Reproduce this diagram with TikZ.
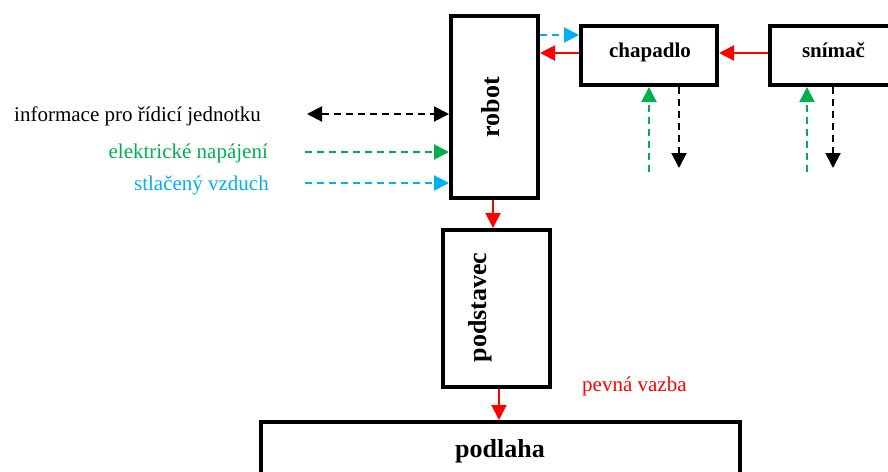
\documentclass[tikz,border=0pt]{standalone}
\usepackage{fontspec}
\setmainfont{Liberation Serif}
\usetikzlibrary{arrows.meta}
\definecolor{ored}{HTML}{FF0000}
\definecolor{ogreen}{HTML}{00B050}
\definecolor{oblue}{HTML}{00B0F0}
\begin{document}
\begin{tikzpicture}[x=1pt,y=-1pt,
  blk/.style={draw=black,line width=4pt,minimum width=#1,inner sep=0pt},
  bigtxt/.style={font=\fontsize{26}{30}\selectfont\bfseries,inner sep=0pt},
  midtxt/.style={font=\fontsize{21}{25}\selectfont\bfseries,inner sep=0pt},
  lbl/.style={font=\fontsize{21}{25}\selectfont,inner sep=0pt},
  tip/.style={-{Triangle[length=15pt,width=15pt]}},
  con/.style={line width=2pt,tip},
  dsh/.style={line width=2pt,dash pattern=on 7pt off 5pt,tip},
]
\useasboundingbox (0,0) rectangle (888,471);
\clip (0,0) rectangle (888,471);
% boxes
\node[blk=87pt,minimum height=182pt] (robot) at (494.5,107) {};
\node[blk=136pt,minimum height=59pt] (chapadlo) at (649,55.5) {};
\node[blk=126pt,minimum height=59pt] (snimac) at (833,55.5) {};
\node[blk=107pt,minimum height=157pt] (podstavec) at (496.5,308.5) {};
\node[blk=479pt,minimum height=78pt] (podlaha) at (500.5,461) {};
% box labels
\node[bigtxt,rotate=90,anchor=base] (robotT) at (499,107) {robot};
\node[bigtxt,rotate=90,anchor=base] (podstavecT) at (486,307.5) {podstavec};
\node[bigtxt,anchor=base] (podlahaT) at (500,457) {podlaha};
\node[midtxt,anchor=base] (chapadloT) at (650,57) {chapadlo};
\node[midtxt,anchor=base] (snimacT) at (833.5,57) {snímač};
% side labels
\node[lbl,anchor=base west] (info) at (14,121) {informace pro řídicí jednotku};
\node[lbl,anchor=base east,text=ogreen] (elek) at (268,158) {elektrické napájení};
\node[lbl,anchor=base east,text=oblue] (vzduch) at (269,190.5) {stlačený vzduch};
\node[lbl,anchor=base west,text=ored] (pevna) at (582,391.5) {pevná vazba};
% coordinates
\coordinate (yb) at (0,35);
\coordinate (yr) at (0,53);
\coordinate (yi) at (0,114);
\coordinate (ye) at (0,152);
\coordinate (yv) at (0,183);
\coordinate (infoS) at (307,114);
\coordinate (elekS) at (305,152);
\coordinate (vzduchS) at (305,183);
\coordinate (chG) at (649,172);
\coordinate (chB) at (679,168);
\coordinate (snG) at (807,172);
\coordinate (snB) at (833,168);
\coordinate (xr1) at (493,0);
\coordinate (xr2) at (499,0);
% connectors
\draw[dsh,oblue] (robot.east |- yb) -- (chapadlo.west |- yb);
\draw[con,ored] (chapadlo.west |- yr) -- (robot.east |- yr);
\draw[con,ored] (snimac.west |- yr) -- (chapadlo.east |- yr);
\draw[dsh,ogreen] (chG) -- (chG |- chapadlo.south);
\draw[dsh,black] (chB |- chapadlo.south) -- (chB);
\draw[dsh,ogreen] (snG) -- (snG |- snimac.south);
\draw[dsh,black] (snB |- snimac.south) -- (snB);
\draw[dsh,black,{Triangle[length=15pt,width=15pt]}-{Triangle[length=15pt,width=15pt]}] (infoS) -- (robot.west |- yi);
\draw[dsh,ogreen] (elekS) -- (robot.west |- ye);
\draw[dsh,oblue] (vzduchS) -- (robot.west |- yv);
\draw[con,ored] (xr1 |- robot.south) -- (xr1 |- podstavec.north);
\draw[con,ored] (xr2 |- podstavec.south) -- (xr2 |- podlaha.north);
\end{tikzpicture}
\end{document}
